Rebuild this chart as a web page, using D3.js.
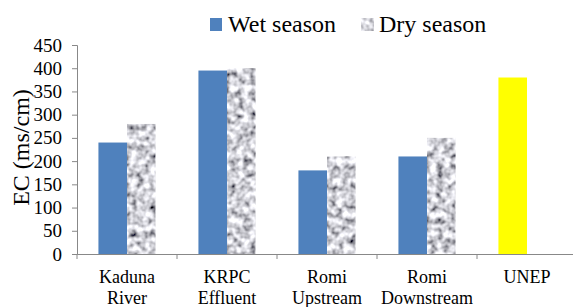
<!DOCTYPE html>
<html>
<head>
<meta charset="utf-8">
<script src="https://cdn.jsdelivr.net/npm/d3@7"></script>
<style>
  body { margin: 0; background: #fff; }
  svg text { font-family: "Liberation Serif", "Times New Roman", serif !important; }
</style>
</head>
<body>
<svg></svg>
<script>
// Data
const sites = ["Kaduna\nRiver", "KRPC\nEffluent", "Romi\nUpstream", "Romi\nDownstream", "UNEP"];
const wetValues = [240, 395, 180, 210, 380];
const dryValues = [280, 400, 210, 250, null];
const yTicks = [0, 50, 100, 150, 200, 250, 300, 350, 400, 450];

const width = 573, height = 307;
const svg = d3.select("svg").attr("width", width).attr("height", height);

const margin = {top: 45, right: -4, bottom: 53, left: 77};
const plotW = width - margin.left - margin.right;
const plotH = height - margin.top - margin.bottom;

// noise texture for dry season bars
const defs = svg.append("defs");
const f = defs.append("filter").attr("id", "noise")
    .attr("x", 0).attr("y", 0).attr("width", 1).attr("height", 1);
f.append("feTurbulence")
    .attr("type", "fractalNoise")
    .attr("baseFrequency", 0.15)
    .attr("numOctaves", 2)
    .attr("seed", 5)
    .attr("result", "t");
f.append("feColorMatrix")
    .attr("in", "t")
    .attr("type", "matrix")
    .attr("values", "1.8 0 0 0 -0.26  1.8 0 0 0 -0.26  1.85 0 0 0 -0.24  0 0 0 0 1")
    .attr("result", "g");
f.append("feComposite").attr("in", "g").attr("in2", "SourceGraphic").attr("operator", "in");

const g = svg.append("g").attr("transform", `translate(${margin.left},${margin.top})`);

const x = d3.scaleBand().domain(sites).range([0, plotW]);
const xSub = d3.scaleBand().domain(["wet", "dry"]).range([0, x.bandwidth()]).paddingInner(0).paddingOuter(0.75);
const y = d3.scaleLinear().domain([0, 450]).range([plotH, 0]);

// bars
g.selectAll("rect.wet")
  .data(sites)
  .join("rect")
  .attr("class", "wet")
  .attr("x", d => x(d) + xSub("wet"))
  .attr("y", (d, i) => y(wetValues[i]))
  .attr("width", xSub.bandwidth())
  .attr("height", (d, i) => y(0) - y(wetValues[i]))
  .attr("fill", (d, i) => d === "UNEP" ? "#ffff00" : "#4f81bd");

g.selectAll("rect.dry")
  .data(sites.filter((d, i) => dryValues[i] != null))
  .join("rect")
  .attr("class", "dry")
  .attr("x", d => x(d) + xSub("dry"))
  .attr("y", d => y(dryValues[sites.indexOf(d)]))
  .attr("width", xSub.bandwidth())
  .attr("height", d => y(0) - y(dryValues[sites.indexOf(d)]))
  .attr("fill", "#999")
  .attr("filter", "url(#noise)");

// y axis
const yAxis = g.append("g")
  .call(d3.axisLeft(y).tickValues(yTicks).tickSize(5).tickPadding(10));
yAxis.attr("font-family", null);
yAxis.selectAll("text").style("font-size", "19px").attr("fill", "#000");
yAxis.selectAll("line, path").attr("stroke", "#888");

// x axis
const xAxis = g.append("g")
  .attr("transform", `translate(0,${plotH})`)
  .call(d3.axisBottom(x).tickSize(0).tickFormat(""));
xAxis.select("path").attr("stroke", "#888");
xAxis.selectAll(".tick").remove();
xAxis.selectAll("line.sep")
  .data(sites)
  .join("line")
  .attr("class", "sep")
  .attr("x1", d => x(d)).attr("x2", d => x(d))
  .attr("y1", 0).attr("y2", 5)
  .attr("stroke", "#888");

// category labels
const lab = g.selectAll("text.cat")
  .data(sites)
  .join("text")
  .attr("class", "cat")
  .attr("x", d => x(d) + x.bandwidth() / 2)
  .attr("y", plotH + 29)
  .attr("text-anchor", "middle")
  .style("font-size", "18px");
lab.each(function(d) {
  d.split("\n").forEach((line, k) => {
    d3.select(this).append("tspan")
      .attr("x", x(d) + x.bandwidth() / 2)
      .attr("dy", k === 0 ? 0 : 21)
      .text(line);
  });
});

// y title
svg.append("text")
  .attr("transform", `translate(29,${margin.top + plotH / 2 - 2}) rotate(-90)`)
  .attr("text-anchor", "middle")
  .style("font-size", "24px")
  .text("EC (ms/cm)");

// legend
const legend = svg.append("g");
legend.append("rect").attr("x", 210).attr("y", 18).attr("width", 12).attr("height", 13).attr("fill", "#4f81bd");
legend.append("text").attr("x", 228).attr("y", 32).style("font-size", "24px").text("Wet season");
legend.append("rect").attr("x", 361).attr("y", 18).attr("width", 13).attr("height", 13)
  .attr("fill", "#999").attr("filter", "url(#noise)");
legend.append("text").attr("x", 379).attr("y", 32).style("font-size", "24px").text("Dry season");
</script>
</body>
</html>
